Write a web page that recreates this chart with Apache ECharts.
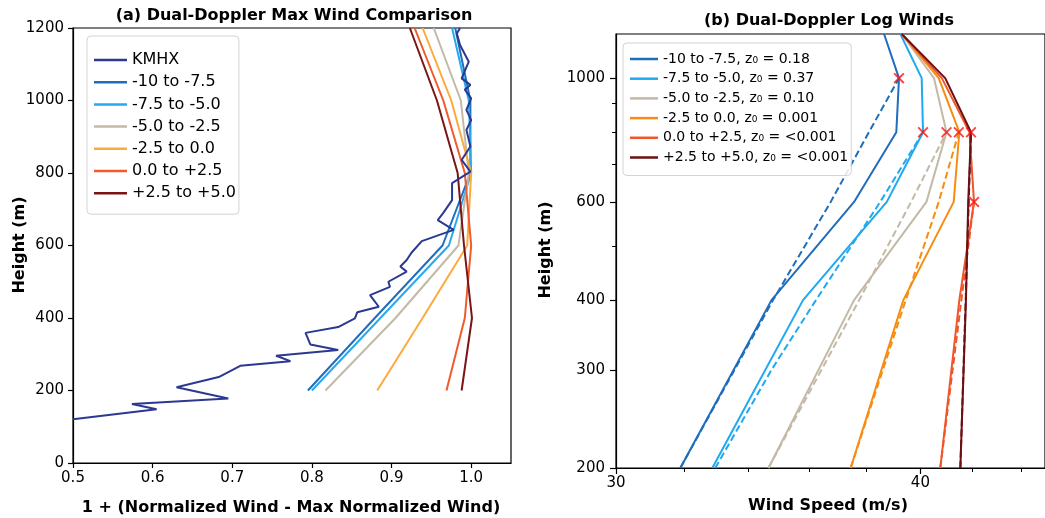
<!DOCTYPE html>
<html><head><meta charset="utf-8">
<script src="https://cdn.jsdelivr.net/npm/echarts@6/dist/echarts.min.js"></script>
<style>html,body{margin:0;padding:0;background:#fff}#c{width:1045px;height:518px}</style>
</head><body><div id="c"></div>
<script>
// ---------- Panel (a): normalized max wind ----------
const ddHeights = [200, 400, 600, 800, 1000, 1200];
const leftNames = ['KMHX', '-10 to -7.5', '-7.5 to -5.0', '-5.0 to -2.5', '-2.5 to 0.0', '0.0 to +2.5', '+2.5 to +5.0'];
const normM10 = [0.795, 0.879, 0.964, 0.999, 0.999, 0.980];
const normM75 = [0.800, 0.886, 0.972, 1.000, 0.997, 0.976];
const normM50 = [0.817, 0.905, 0.984, 0.997, 0.987, 0.953];
const normM25 = [0.882, 0.939, 0.995, 1.000, 0.975, 0.939];
const normP00 = [0.969, 0.992, 1.000, 0.992, 0.965, 0.929];
const normP25 = [0.988, 1.001, 0.991, 0.983, 0.957, 0.923];
const kmhxWind = [0.500,0.605,0.574,0.695,0.630,0.683,0.710,0.773,0.755,0.833,0.798,0.792,0.833,0.854,0.857,0.884,0.873,0.898,0.896,0.919,0.911,0.919,0.925,0.938,0.978,0.958,0.965,0.976,0.976,0.999,0.988,0.999,0.994,1.000,0.994,1.000,0.992,0.999,0.988,0.997,0.986,0.982,0.986];
const kmhxHeight = [121,148,163,178,209,237,268,281,296,312,327,359,375,399,416,431,463,486,500,528,542,560,580,612,643,670,690,725,772,804,836,873,919,946,974,1006,1030,1043,1061,1107,1153,1185,1200];
const leftXTicks = [0.5, 0.6, 0.7, 0.8, 0.9, 1.0];

// ---------- Panel (b): log winds ----------
const logHeights = [200, 400, 600, 800, 1000, 1200];
const rightNames = ['-10 to -7.5, z\u2080 = 0.18', '-7.5 to -5.0, z\u2080 = 0.37', '-5.0 to -2.5, z\u2080 = 0.10', '-2.5 to 0.0, z\u2080 = 0.001', '0.0 to +2.5, z\u2080 = <0.001', '+2.5 to +5.0, z\u2080 = <0.001'];
const speedM10 = [31.88, 34.75, 37.57, 39.10, 39.20, 38.65];
const speedM75 = [32.86, 35.80, 38.75, 40.10, 40.05, 39.25];
const speedM50 = [34.65, 37.57, 40.23, 41.00, 40.52, 39.30];
const speedM25 = [37.45, 39.36, 41.28, 41.50, 40.70, 39.30];
const speedP00 = [40.76, 41.50, 42.08, 41.90, 40.82, 39.30];
const speedP25 = [41.54, 41.76, 41.85, 41.96, 40.95, 39.30];
const fitHeightsM10 = [200, 400, 600, 800, 1000];
const fitSpeedM10 = [31.88, 34.80, 36.75, 38.10, 39.20];
const fitHeightsM75 = [200, 300, 400, 600, 800];
const fitSpeedM75 = [32.95, 34.75, 36.24, 38.51, 40.10];
const fitHeightsM50 = [200, 400, 600, 800];
const fitSpeedM50 = [34.65, 37.75, 39.65, 41.00];
const fitHeightsM25 = [200, 400, 600, 800];
const fitSpeedM25 = [37.45, 39.45, 40.70, 41.48];
const fitHeightsP00 = [200, 400, 600];
const fitSpeedP00 = [40.76, 41.58, 42.08];
const fitHeightsP25 = [200, 400, 600, 800];
const fitSpeedP25 = [41.54, 41.75, 41.87, 41.96];
const maxSpeed = [39.20, 40.10, 41.00, 41.48, 42.08, 41.96];
const maxHeight = [1000, 800, 800, 800, 600, 800];
const rightYMajor = [200, 300, 400, 600, 1000];
const rightYMinor = [500, 700, 800, 900];
const rightXMajor = [30, 40];
const rightXMinor = [32, 34, 36, 38, 42, 44];

const leftColors = ['#2b3990', '#1f6dbd', '#27a9ef', '#c3b9a6', '#fbab3c', '#f15a29', '#7a1416'];
const rightColors = ['#1f6dbd', '#1fa9f0', '#c3b9a6', '#f78c13', '#f0562a', '#6e0f12'];

const FONT = '"DejaVu Sans", sans-serif';
const zip = (xs, ys) => xs.map((x, i) => [x, ys[i]]);

const leftSeriesVals = [normM10, normM75, normM50, normM25, normP00, normP25];
const rightSolid = [speedM10, speedM75, speedM50, speedM25, speedP00, speedP25];
const rightFitH = [fitHeightsM10, fitHeightsM75, fitHeightsM50, fitHeightsM25, fitHeightsP00, fitHeightsP25];
const rightFitS = [fitSpeedM10, fitSpeedM75, fitSpeedM50, fitSpeedM25, fitSpeedP00, fitSpeedP25];

const series = [];
leftSeriesVals.forEach((vals, i) => {
  series.push({ name: leftNames[i + 1], type: 'line', xAxisIndex: 0, yAxisIndex: 0, symbol: 'none',
    data: zip(vals, ddHeights), lineStyle: { width: 2, color: leftColors[i + 1] }, itemStyle: { color: leftColors[i + 1] }, z: 2 });
});
series.push({ name: 'KMHX', type: 'line', xAxisIndex: 0, yAxisIndex: 0, symbol: 'none',
  data: zip(kmhxWind, kmhxHeight), lineStyle: { width: 2, color: leftColors[0] }, itemStyle: { color: leftColors[0] }, z: 3 });

rightSolid.forEach((vals, i) => {
  series.push({ name: rightNames[i], type: 'line', xAxisIndex: 1, yAxisIndex: 1, symbol: 'none',
    data: zip(vals, logHeights), lineStyle: { width: 2, color: rightColors[i] }, itemStyle: { color: rightColors[i] }, z: 2 });
  series.push({ name: 'fit ' + i, type: 'line', xAxisIndex: 1, yAxisIndex: 1, symbol: 'none',
    data: zip(rightFitS[i], rightFitH[i]), lineStyle: { width: 2, color: rightColors[i], type: [7, 3.5] }, itemStyle: { color: rightColors[i] }, z: 2 });
});
series.push({ name: 'max', type: 'scatter', xAxisIndex: 1, yAxisIndex: 1,
  symbol: 'path://M0,1.2 L1.2,0 L5,3.8 L8.8,0 L10,1.2 L6.2,5 L10,8.8 L8.8,10 L5,6.2 L1.2,10 L0,8.8 L3.8,5 Z',
  symbolSize: 11, itemStyle: { color: '#ff1010' }, data: zip(maxSpeed, maxHeight), z: 5 });

const axisLineBlack = { show: true, lineStyle: { color: '#000', width: 1.2 } };
const labelStyle = { color: '#000', fontSize: 15, fontFamily: FONT };

const option = {
  animation: false,
  backgroundColor: '#fff',
  grid: [
    { left: 73, top: 28, width: 438, height: 435, show: true, borderColor: '#000', borderWidth: 1.2, backgroundColor: 'transparent' },
    { left: 616, top: 34, width: 434, height: 434, show: true, borderColor: '#000', borderWidth: 1.2, backgroundColor: 'transparent' }
  ],
  xAxis: [
    { type: 'value', gridIndex: 0, min: 0.5, max: 1.05, position: 'bottom', axisLine: axisLineBlack,
      axisTick: { show: true, length: 5, lineStyle: { color: '#000', width: 1.2 }, customValues: leftXTicks },
      axisLabel: Object.assign({ margin: 8, customValues: leftXTicks, formatter: v => Number(v).toFixed(1) }, labelStyle),
      splitLine: { show: false } },
    { type: 'log', logBase: 10, gridIndex: 1, min: 30, max: 45, position: 'bottom', axisLine: axisLineBlack,
      axisTick: { show: true, length: 6, lineStyle: { color: '#000', width: 1.2 }, customValues: rightXMajor },
      axisLabel: Object.assign({ margin: 8, customValues: rightXMajor, formatter: v => String(Math.round(v)) }, labelStyle),
      splitLine: { show: false }, minorTick: { show: false } },
    { type: 'log', logBase: 10, gridIndex: 1, min: 30, max: 45, position: 'bottom', offset: 0, axisLine: { show: false },
      axisTick: { show: true, length: 4, lineStyle: { color: '#000', width: 1 }, customValues: rightXMinor },
      axisLabel: { show: false }, splitLine: { show: false } }
  ],
  yAxis: [
    { type: 'value', gridIndex: 0, min: 0, max: 1200, interval: 200, position: 'left', axisLine: axisLineBlack,
      axisTick: { show: true, length: 5, lineStyle: { color: '#000', width: 1.2 } },
      axisLabel: Object.assign({ margin: 9, formatter: v => String(Math.round(v)) }, labelStyle), splitLine: { show: false } },
    { type: 'log', logBase: 10, gridIndex: 1, min: 200, max: 1200, position: 'left', axisLine: axisLineBlack,
      axisTick: { show: true, length: 6, lineStyle: { color: '#000', width: 1.2 }, customValues: rightYMajor },
      axisLabel: Object.assign({ margin: 11, customValues: rightYMajor, formatter: v => String(Math.round(v)) }, labelStyle),
      splitLine: { show: false }, minorTick: { show: false } },
    { type: 'log', logBase: 10, gridIndex: 1, min: 200, max: 1200, position: 'left', offset: 0, axisLine: { show: false },
      axisTick: { show: true, length: 4, lineStyle: { color: '#000', width: 1 }, customValues: rightYMinor },
      axisLabel: { show: false }, splitLine: { show: false } }
  ],
  legend: [
    { data: leftNames, orient: 'vertical', left: 87, top: 36, icon: 'rect', itemWidth: 33, itemHeight: 2.5, itemGap: 4.2,
      padding: [15, 3, 12, 7], textStyle: { fontSize: 16, fontFamily: FONT, color: '#000', lineHeight: 18 },
      borderColor: '#d3d3d3', borderWidth: 1, borderRadius: 4, backgroundColor: 'rgba(255,255,255,0.85)', selectedMode: false },
    { data: rightNames, orient: 'vertical', left: 623, top: 43, icon: 'rect', itemWidth: 28, itemHeight: 2.5, itemGap: 3.7,
      padding: [8, 3, 10, 7], textStyle: { fontSize: 14, fontFamily: FONT, color: '#000', lineHeight: 16 },
      borderColor: '#d3d3d3', borderWidth: 1, borderRadius: 4, backgroundColor: 'rgba(255,255,255,0.85)', selectedMode: false }
  ],
  graphic: [
    { type: 'text', x: 294, y: 16, style: { text: '(a) Dual-Doppler Max Wind Comparison', font: 'bold 16px ' + FONT, fill: '#000', align: 'center', verticalAlign: 'middle' } },
    { type: 'text', x: 829, y: 21, style: { text: '(b) Dual-Doppler Log Winds', font: 'bold 16px ' + FONT, fill: '#000', align: 'center', verticalAlign: 'middle' } },
    { type: 'text', x: 291, y: 508, style: { text: '1 + (Normalized Wind - Max Normalized Wind)', font: 'bold 16px ' + FONT, fill: '#000', align: 'center', verticalAlign: 'middle' } },
    { type: 'text', x: 828, y: 506, style: { text: 'Wind Speed (m/s)', font: 'bold 16px ' + FONT, fill: '#000', align: 'center', verticalAlign: 'middle' } },
    { type: 'text', x: 20, y: 245, rotation: Math.PI / 2, style: { text: 'Height (m)', font: 'bold 16px ' + FONT, fill: '#000', align: 'center', verticalAlign: 'middle' } },
    { type: 'text', x: 546, y: 250, rotation: Math.PI / 2, style: { text: 'Height (m)', font: 'bold 16px ' + FONT, fill: '#000', align: 'center', verticalAlign: 'middle' } }
  ],
  series: series
};
const chart = echarts.init(document.getElementById('c'), null, { renderer: 'canvas' });
chart.setOption(option);
</script></body></html>
